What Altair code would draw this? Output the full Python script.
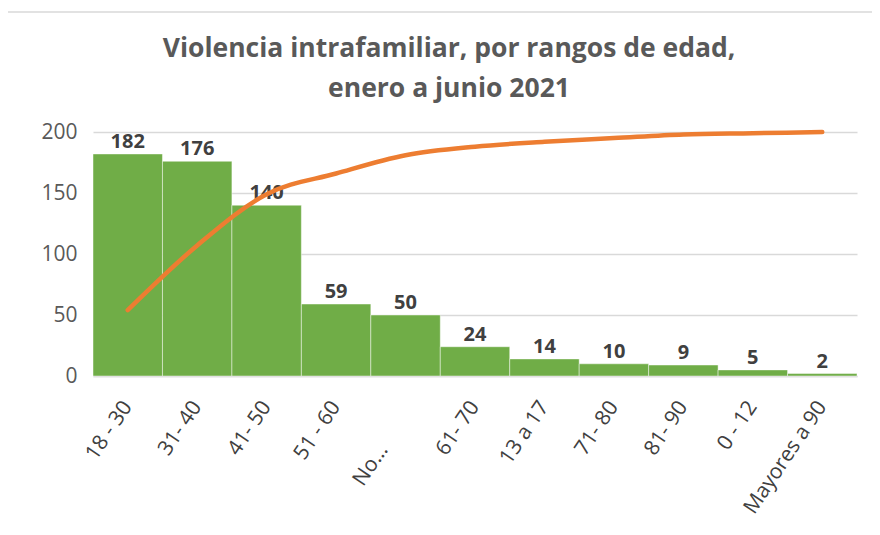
import altair as alt
import pandas as pd

categories = ["18 - 30", "31- 40", "41- 50", "51 - 60", "No...", "61- 70",
              "13 a 17", "71- 80", "81- 90", "0 - 12", "Mayores a 90"]
counts = [182, 176, 140, 59, 50, 24, 14, 10, 9, 5, 2]
cumulative_line = [54, 107, 149, 166, 181, 188, 192, 195, 198, 199, 200]
y_ticks = [0, 50, 100, 150, 200]
title_lines = ["Violencia intrafamiliar, por rangos de edad,", "enero a junio 2021"]

df = pd.DataFrame({"cat": categories, "n": counts, "cum": cumulative_line})

FONT = "Open Sans"
GRID = "#D9D9D9"
IS_NO = "datum.label == 'No...'"

x_enc = alt.X(
    "cat:N", sort=categories, title=None,
    scale=alt.Scale(paddingInner=0, paddingOuter=0),
    axis=alt.Axis(
        labelAngle=304, labelFontSize=21, labelFont=FONT, labelColor="#404040",
        labelPadding={"condition": {"test": IS_NO, "value": 70}, "value": 27},
        labelOffset={"condition": {"test": IS_NO, "value": -22}, "value": 0},
        ticks=False, tickSize=0, domainColor=GRID, domainWidth=1.5,
        grid=False, labelAlign="right", labelBaseline="middle",
    ),
)
y_scale = alt.Scale(domain=[0, 200], nice=False)

bars = alt.Chart(df).mark_bar(
    color="#70AD47", stroke="white", strokeWidth=1, strokeOpacity=0.45
).encode(
    x=x_enc,
    y=alt.Y("n:Q", scale=y_scale, title=None,
            axis=alt.Axis(values=y_ticks, domain=False, ticks=False, labelFontSize=21,
                          labelFont=FONT, labelColor="#595959", labelPadding=16,
                          gridColor=GRID, gridWidth=1.5)),
)

labels = alt.Chart(df).mark_text(
    font=FONT, fontSize=20, fontWeight="bold", color="#404040",
    baseline="alphabetic", dy=-6
).encode(
    x=alt.X("cat:N", sort=categories),
    y=alt.Y("n:Q", scale=y_scale),
    text="n:Q",
)

line = alt.Chart(df).mark_line(
    color="#ED7D31", strokeWidth=4.5, strokeCap="round", interpolate="monotone"
).encode(
    x=alt.X("cat:N", sort=categories),
    y=alt.Y("cum:Q", scale=y_scale),
)

frame_top = alt.Chart(df.head(1)).mark_rule(color=GRID, strokeWidth=1.5).encode(
    x=alt.value(-86), x2=alt.value(900), y=alt.value(-120)
)
frame_left = alt.Chart(df.head(1)).mark_rule(color=GRID, strokeWidth=1.5).encode(
    x=alt.value(-86), y=alt.value(-120), y2=alt.value(420)
)

chart = alt.layer(frame_top, frame_left, bars, labels, line).properties(
    width=764, height=244,
    padding={"left": 85, "top": 124, "right": 15, "bottom": 150},
    autosize=alt.AutoSizeParams(type="none"),
    title=alt.TitleParams(
        text=title_lines, font=FONT, fontSize=26.5, fontWeight="bold", color="#595959",
        anchor="middle", lineHeight=40, dx=-26, offset=30, dy=121.5,
    ),
).configure_view(stroke=None)

chart.save("out.html", embed_options={"renderer": "svg", "actions": False})
